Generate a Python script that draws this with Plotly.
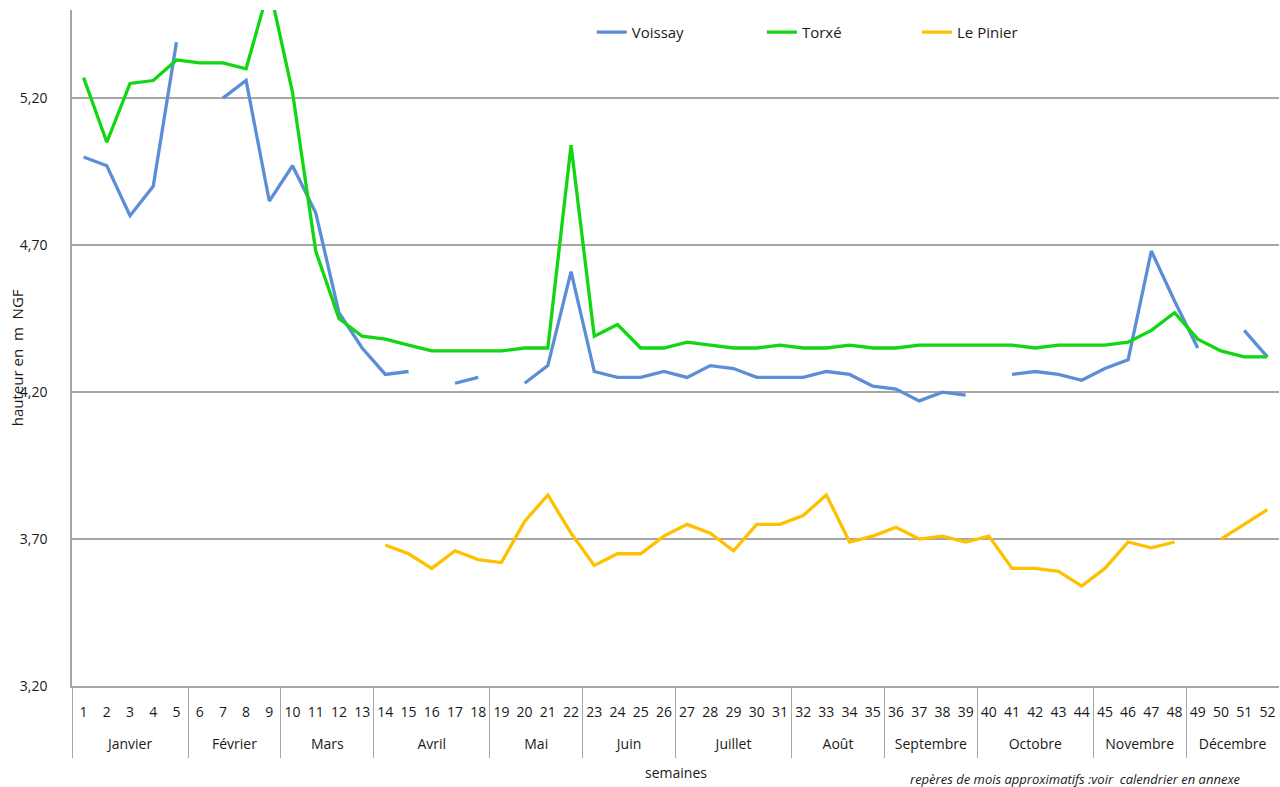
import plotly.graph_objects as go

weeks = list(range(1, 53))
month_names = ["Janvier", "Février", "Mars", "Avril", "Mai", "Juin", "Juillet",
               "Août", "Septembre", "Octobre", "Novembre", "Décembre"]
month_weeks = [5, 4, 4, 5, 4, 4, 5, 4, 4, 5, 4, 4]

voissay = [5.00, 4.97, 4.80, 4.90, 5.39, None, 5.20, 5.26, 4.85, 4.97,
           4.81, 4.47, 4.35, 4.26, 4.27, None, 4.23, 4.25, None, 4.23,
           4.29, 4.61, 4.27, 4.25, 4.25, 4.27, 4.25, 4.29, 4.28, 4.25,
           4.25, 4.25, 4.27, 4.26, 4.22, 4.21, 4.17, 4.20, 4.19, None,
           4.26, 4.27, 4.26, 4.24, 4.28, 4.31, 4.68, 4.51, 4.35, None,
           4.41, 4.32]
torxe = [5.27, 5.05, 5.25, 5.26, 5.33, 5.32, 5.32, 5.30, 5.58, 5.22,
         4.68, 4.45, 4.39, 4.38, 4.36, 4.34, 4.34, 4.34, 4.34, 4.35,
         4.35, 5.04, 4.39, 4.43, 4.35, 4.35, 4.37, 4.36, 4.35, 4.35,
         4.36, 4.35, 4.35, 4.36, 4.35, 4.35, 4.36, 4.36, 4.36, 4.36,
         4.36, 4.35, 4.36, 4.36, 4.36, 4.37, 4.41, 4.47, 4.38, 4.34,
         4.32, 4.32]
le_pinier = [None] * 13 + [
    3.68, 3.65, 3.60, 3.66, 3.63, 3.62, 3.76, 3.85, 3.72, 3.61,
    3.65, 3.65, 3.71, 3.75, 3.72, 3.66, 3.75, 3.75, 3.78, 3.85,
    3.69, 3.71, 3.74, 3.70, 3.71, 3.69, 3.71, 3.60, 3.60, 3.59,
    3.54, 3.60, 3.69, 3.67, 3.69, None, 3.70, 3.75, 3.80]

series = [("Voissay", voissay, "#5B8ED6", "legend", 0.4306),
          ("Torxé", torxe, "#11D611", "legend2", 0.5716),
          ("Le Pinier", le_pinier, "#FFC000", "legend3", 0.7001)]

y_ticks = [3.20, 3.70, 4.20, 4.70, 5.20]

# month centres and boundaries derived from the month lengths
bounds = [0.5]
for n in month_weeks:
    bounds.append(bounds[-1] + n)
centres = [(a + b) / 2 for a, b in zip(bounds[:-1], bounds[1:])]
x_range = [weeks[0] - 0.5, weeks[-1] + 0.5]

fig = go.Figure()
for name, vals, col, leg, _ in series:
    fig.add_trace(go.Scatter(x=weeks, y=vals, name=name, mode="lines",
                             line=dict(color=col, width=3.3), connectgaps=False,
                             legend=leg))

font = "Open Sans"
grey = "#A6A6A6"
legends = {}
for name, vals, col, leg, lx in series:
    legends[leg] = dict(orientation="h", x=lx, xanchor="left", y=0.967,
                        yanchor="middle", font=dict(size=15),
                        bgcolor="rgba(0,0,0,0)")

fig.update_layout(
    width=1280, height=787,
    margin=dict(l=72, r=1, t=10, b=101, autoexpand=False),
    paper_bgcolor="white", plot_bgcolor="white",
    separators=", ",
    font=dict(family=font, size=14, color="#1a1a1a"),
    showlegend=True,
    **legends,
    xaxis=dict(range=x_range, tickmode="array", tickvals=weeks,
               ticktext=[str(w) for w in weeks], showgrid=False, showline=True,
               linecolor=grey, linewidth=1.5, zeroline=False, ticks="",
               tickfont=dict(size=14), tickangle=0, ticklabelstandoff=12,
               automargin=False),
    xaxis2=dict(range=x_range, overlaying="x", anchor="y", side="bottom",
                tickmode="array", tickvals=centres, ticktext=month_names,
                showgrid=False, showline=False, zeroline=False, ticks="",
                tickfont=dict(size=14), tickangle=0, ticklabelstandoff=48,
                automargin=False),
    xaxis3=dict(range=x_range, overlaying="x", anchor="y", side="bottom",
                tickmode="array", tickvals=bounds[:-1], showticklabels=False,
                showgrid=False, showline=False, zeroline=False,
                ticks="outside", ticklen=71, tickwidth=1.3, tickcolor=grey,
                automargin=False),
    yaxis=dict(range=[3.20, 5.50], tickvals=y_ticks, tickformat=".2f",
               showgrid=True, gridcolor=grey, gridwidth=1.5,
               showline=True, linecolor=grey, linewidth=1.5,
               zeroline=False, ticks="", ticklabelstandoff=20, automargin=False,
               tickfont=dict(size=14)),
    annotations=[
        dict(text="hauteur en  m  NGF", textangle=-90, xref="paper", yref="paper",
             x=-0.0455, y=0.485, xanchor="center", yanchor="middle", showarrow=False,
             font=dict(size=15)),
        dict(text="semaines", xref="paper", yref="paper", x=0.5, y=-0.128,
             xanchor="center", yanchor="middle", showarrow=False, font=dict(size=14)),
        dict(text="<i>repères de mois approximatifs :voir  calendrier en annexe</i>",
             xref="paper", yref="paper", x=0.831, y=-0.1375, xanchor="center",
             yanchor="middle", showarrow=False, font=dict(size=13)),
    ],
)
# invisible helper traces so the overlay axes are drawn
fig.add_trace(go.Scatter(x=x_range, y=[None, None], xaxis="x2", showlegend=False,
                         hoverinfo="skip"))
fig.add_trace(go.Scatter(x=x_range, y=[None, None], xaxis="x3", showlegend=False,
                         hoverinfo="skip"))

fig.write_html("out.html", config={"displayModeBar": False},
               post_script="document.body.style.margin='0';")
